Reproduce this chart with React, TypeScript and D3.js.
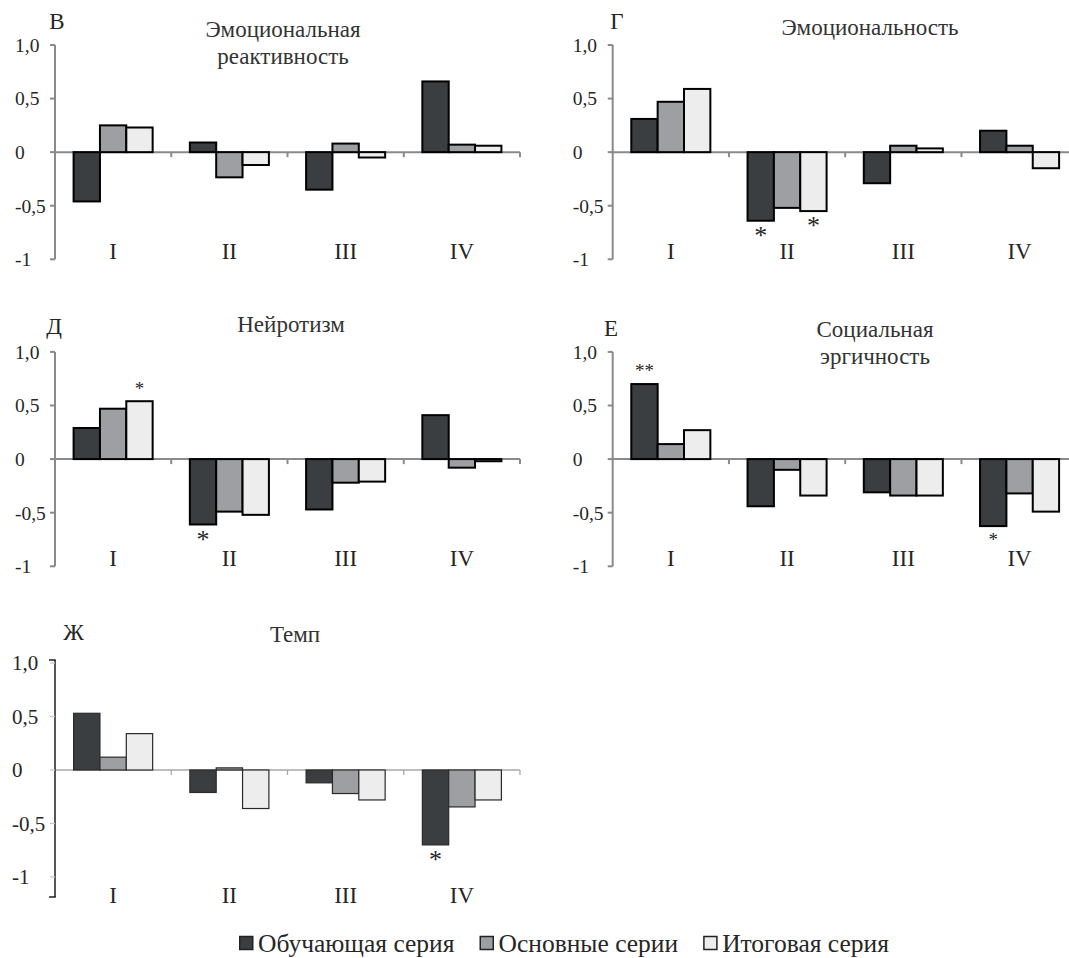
import React, { useEffect, useRef } from 'react';
import * as d3 from 'd3';

// ---------- data ----------
const categories = ['I', 'II', 'III', 'IV'];
const seriesNames = ['Обучающая серия', 'Основные серии', 'Итоговая серия'];
const seriesFill = ['#3b3e41', '#9d9fa2', '#ededed'];
const yTickValues = [1, 0.5, 0, -0.5, -1];
const yTickLabels = ['1,0', '0,5', '0', '-0,5', '-1'];

// В — Эмоциональная реактивность
const reactivityTraining = [-0.46, 0.09, -0.35, 0.66];
const reactivityMain = [0.25, -0.235, 0.08, 0.07];
const reactivityFinal = [0.23, -0.12, -0.05, 0.06];
const reactivityStars: { cat: string; series: number; text: string; big: boolean }[] = [];

// Г — Эмоциональность
const emotionalityTraining = [0.31, -0.64, -0.29, 0.2];
const emotionalityMain = [0.47, -0.52, 0.06, 0.06];
const emotionalityFinal = [0.59, -0.55, 0.035, -0.15];
const emotionalityStars = [
  { cat: 'II', series: 0, text: '*', big: true },
  { cat: 'II', series: 2, text: '*', big: true },
];

// Д — Нейротизм
const neuroticismTraining = [0.29, -0.61, -0.47, 0.41];
const neuroticismMain = [0.47, -0.49, -0.22, -0.08];
const neuroticismFinal = [0.54, -0.52, -0.21, -0.02];
const neuroticismStars = [
  { cat: 'I', series: 2, text: '*', big: false },
  { cat: 'II', series: 0, text: '*', big: true },
];

// Е — Социальная эргичность
const socialTraining = [0.7, -0.44, -0.31, -0.625];
const socialMain = [0.14, -0.1, -0.34, -0.32];
const socialFinal = [0.27, -0.34, -0.34, -0.49];
const socialStars = [
  { cat: 'I', series: 0, text: '**', big: false },
  { cat: 'IV', series: 0, text: '*', big: false },
];

// Ж — Темп
const tempoTraining = [0.53, -0.21, -0.12, -0.7];
const tempoMain = [0.12, 0.02, -0.22, -0.345];
const tempoFinal = [0.34, -0.36, -0.28, -0.28];
const tempoStars = [{ cat: 'IV', series: 0, text: '*', big: true }];

// ---------- layout ----------
const FONT = "'Liberation Serif', 'Times New Roman', serif";
const TEXT = '#262626';

interface PanelCfg {
  letter: string;
  titleLines: string[];
  series: number[][];
  stars: { cat: string; series: number; text: string; big: boolean }[];
  axisX: number;
  yTop: number;
  yBottom: number;
  letterX: number;
  letterY: number;
  titleX: number;
  titleY: number;
  tempo?: boolean;
}

const panels: PanelCfg[] = [
  {
    letter: 'В', titleLines: ['Эмоциональная', 'реактивность'],
    series: [reactivityTraining, reactivityMain, reactivityFinal], stars: reactivityStars,
    axisX: 55, yTop: 45, yBottom: 259.3, letterX: 57, letterY: 28.5, titleX: 283, titleY: 36.5,
  },
  {
    letter: 'Г', titleLines: ['Эмоциональность'],
    series: [emotionalityTraining, emotionalityMain, emotionalityFinal], stars: emotionalityStars,
    axisX: 612.7, yTop: 45, yBottom: 259.3, letterX: 617, letterY: 28.5, titleX: 870, titleY: 35.2,
  },
  {
    letter: 'Д', titleLines: ['Нейротизм'],
    series: [neuroticismTraining, neuroticismMain, neuroticismFinal], stars: neuroticismStars,
    axisX: 55, yTop: 351.9, yBottom: 566.3, letterX: 54, letterY: 333.5, titleX: 291, titleY: 331.8,
  },
  {
    letter: 'Е', titleLines: ['Социальная', 'эргичность'],
    series: [socialTraining, socialMain, socialFinal], stars: socialStars,
    axisX: 612.7, yTop: 351.9, yBottom: 566.3, letterX: 611, letterY: 336, titleX: 875, titleY: 336.9,
  },
  {
    letter: 'Ж', titleLines: ['Темп'],
    series: [tempoTraining, tempoMain, tempoFinal], stars: tempoStars,
    axisX: 55, yTop: 663, yBottom: 877, letterX: 73.5, letterY: 640, titleX: 295, titleY: 641.9,
    tempo: true,
  },
];

const PLOT_W = 465;

function txt(sel: d3.Selection<SVGTextElement, any, any, any>, size: number, fill = TEXT) {
  return sel.style('font-family', FONT).style('font-size', `${size}px`).attr('fill', fill);
}

function drawPanel(svg: d3.Selection<SVGSVGElement, unknown, null, undefined>, p: PanelCfg) {
  const g = svg.append('g');
  const y = d3.scaleLinear().domain([-1, 1]).range([p.yBottom, p.yTop]);
  const x0 = d3.scaleBand<string>().domain(categories)
    .range([p.axisX, p.axisX + PLOT_W]).paddingInner(0.32).paddingOuter(0.16);
  const x1 = d3.scaleBand<number>().domain([0, 1, 2]).range([0, x0.bandwidth()]);
  const step = x0.step();
  const y0 = y(0);

  const axisColor = p.tempo ? '#1e1e1e' : '#8a8a8a';
  const axisW = p.tempo ? 1.5 : 2;
  const zeroColor = p.tempo ? '#a8a8a8' : '#8a8a8a';
  const zeroW = p.tempo ? 1.3 : 2;

  // x axis (zero line)
  g.append('line').attr('x1', p.axisX).attr('x2', p.axisX + PLOT_W)
    .attr('y1', y0).attr('y2', y0).attr('stroke', zeroColor).attr('stroke-width', zeroW);
  g.selectAll('.xt').data(d3.range(1, categories.length + 1)).enter().append('line')
    .attr('x1', (i) => p.axisX + step * i).attr('x2', (i) => p.axisX + step * i)
    .attr('y1', y0).attr('y2', y0 + 5).attr('stroke', zeroColor).attr('stroke-width', zeroW);

  // y axis
  const axTop = p.tempo ? y(1) - 3 : y(1);
  const axBottom = p.tempo ? y(-1) + 20 : y(-1);
  g.append('line').attr('x1', p.axisX).attr('x2', p.axisX).attr('y1', axTop).attr('y2', axBottom)
    .attr('stroke', axisColor).attr('stroke-width', axisW);
  if (p.tempo) {
    [axTop, axBottom].forEach((yy) => {
      g.append('line').attr('x1', p.axisX - 6).attr('x2', p.axisX + 0.75).attr('y1', yy).attr('y2', yy)
        .attr('stroke', axisColor).attr('stroke-width', 1.5);
    });
  }
  g.selectAll('.yt').data(yTickValues).enter().append('line')
    .attr('x1', p.axisX - 5).attr('x2', p.axisX).attr('y1', (d) => y(d)).attr('y2', (d) => y(d))
    .attr('stroke', p.tempo ? '#c8c8c8' : '#8a8a8a').attr('stroke-width', p.tempo ? 1.3 : 2);
  txt(g.selectAll('.yl').data(yTickValues).enter().append('text')
    .attr('x', p.tempo ? p.axisX - 43 : p.axisX - 40).attr('y', (d) => y(d)).attr('dy', '0.35em'),
    p.tempo ? 21 : 19.5)
    .text((_d, i) => yTickLabels[i]);

  // bars
  p.series.forEach((vals, si) => {
    g.selectAll(`.bar${si}`).data(vals).enter().append('rect')
      .attr('x', (_d, ci) => (x0(categories[ci]) as number) + (x1(si) as number))
      .attr('width', x1.bandwidth())
      .attr('y', (d) => Math.min(y(d), y0))
      .attr('height', (d) => Math.abs(y(d) - y0))
      .attr('fill', seriesFill[si])
      .attr('stroke', p.tempo ? '#2a2a2a' : '#000')
      .attr('stroke-width', p.tempo ? 1.2 : 2);
  });

  // stars
  p.stars.forEach((s) => {
    const ci = categories.indexOf(s.cat);
    const v = p.series[s.series][ci];
    const cx = (x0(s.cat) as number) + (x1(s.series) as number) + x1.bandwidth() / 2;
    const fs = s.big ? 26 : 19;
    const center = v >= 0 ? y(v) - 15.5 : y(v) + 11;
    txt(g.append('text').attr('x', cx).attr('y', center + 0.47 * fs).attr('text-anchor', 'middle'), fs)
      .text(s.text);
  });

  // category labels
  txt(g.selectAll('.cl').data(categories).enter().append('text')
    .attr('x', (d) => (x0(d) as number) + x0.bandwidth() / 2)
    .attr('y', p.tempo ? p.yBottom + 26 : p.yBottom)
    .attr('text-anchor', 'middle'), 23)
    .text((d) => d);

  // letter and title
  txt(g.append('text').attr('x', p.letterX).attr('y', p.letterY).attr('text-anchor', 'middle'), 23)
    .text(p.letter);
  p.titleLines.forEach((line, li) => {
    txt(g.append('text').attr('x', p.titleX).attr('y', p.titleY + li * 27).attr('text-anchor', 'middle'),
      23, '#333').text(line);
  });
}

export default function App() {
  const ref = useRef<SVGSVGElement>(null);
  useEffect(() => {
    if (!ref.current) return;
    const svg = d3.select(ref.current);
    svg.selectAll('*').remove();
    svg.append('rect').attr('width', 1069).attr('height', 958).attr('fill', '#fff');
    panels.forEach((p) => drawPanel(svg, p));

    // legend
    const lg = svg.append('g');
    let cx = 239;
    seriesNames.forEach((name, i) => {
      lg.append('rect').attr('x', cx + 0.75).attr('y', 936.5).attr('width', 13).attr('height', 13)
        .attr('fill', seriesFill[i]).attr('stroke', '#222').attr('stroke-width', 1.5);
      const t = txt(lg.append('text').attr('x', cx + 19).attr('y', 952), 25.5).text(name);
      const w = (t.node() as SVGTextElement).getComputedTextLength();
      cx = cx + 19 + w + 25;
    });
  }, []);
  return (
    <svg ref={ref} width={1069} height={958}
      style={{ position: 'absolute', left: 0, top: 0, display: 'block', fontFamily: FONT }} />
  );
}
